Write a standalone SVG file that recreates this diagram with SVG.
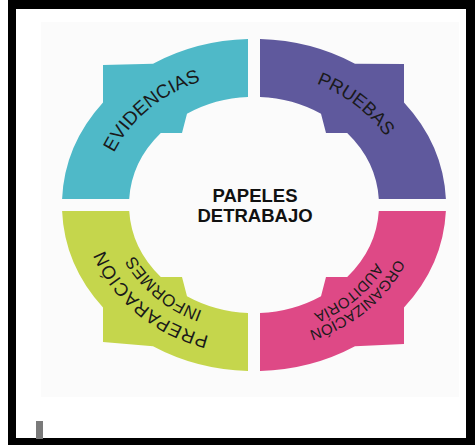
<svg xmlns="http://www.w3.org/2000/svg" width="475" height="445" viewBox="0 0 475 445">
<style>
.lbl { font-family: "Liberation Sans", Arial, sans-serif; fill: #1a1a1a; }
.ctr { font-family: "Liberation Sans", Arial, sans-serif; font-weight: bold; font-size: 18.5px; fill: #111111; text-anchor: middle; }
.cyan { fill: #4fb9c8; }
.purple { fill: #5f599d; }
.green { fill: #c5d64c; }
.pink { fill: #de4986; }
</style>
<defs>
<path id="tp-evi" d="M 101.4,205 A 152.6 132 0 0 1 254,73"/>
<path id="tp-pru" d="M 254,72.2 A 153.6 132.8 0 0 1 407.6,205"/>
<path id="tp-prep" d="M 254,341.8 A 158.2 136.8 0 0 1 95.8,205"/>
<path id="tp-inf" d="M 254,320 A 133 115 0 0 1 121,205"/>
<path id="tp-org" d="M 409.5,205 A 155.5 134.5 0 0 1 254,339.5"/>
<path id="tp-aud" d="M 392.8,205 A 138.8 120 0 0 1 254,325"/>
</defs>
<rect x="8" y="0" width="467" height="445" fill="#000000"/>
<rect x="16" y="9" width="450" height="429" fill="#ffffff"/>
<rect x="41" y="22" width="418" height="375" fill="#fbfbfb"/>
<rect x="36" y="421" width="7" height="18" fill="#7a7a7a"/>
<g id="connectors"></g>
<g id="evidencias">
<path class="cyan" d="M 62.1,199 A 192 166 0 0 1 103,102.5 L 103,65 L 153,63.8 A 192 166 0 0 1 248,39.1 L 248,97.1 A 125 108 0 0 0 187,113.8 L 182,133 L 160.8,133 A 125 108 0 0 0 129.2,199 Z"/>
<text class="lbl" font-size="19"><textPath href="#tp-evi" startOffset="50%" text-anchor="middle">EVIDENCIAS</textPath></text>
</g>
<g id="pruebas">
<path class="purple" d="M 260,39.1 A 192 166 0 0 1 355,63.8 L 404,64 L 404,102.5 A 192 166 0 0 1 445.9,199 L 378.8,199 A 125 108 0 0 0 347.2,133 L 326,133 L 321,113.8 A 125 108 0 0 0 260,97.1 Z"/>
<text class="lbl" font-size="18.5"><textPath href="#tp-pru" startOffset="48%" text-anchor="middle">PRUEBAS</textPath></text>
</g>
<g id="preparacion">
<path class="green" d="M 62.1,211 L 129.2,211 A 125 108 0 0 0 160.8,277 L 182,277 L 187,296.2 A 125 108 0 0 0 248,312.9 L 248,370.9 A 192 166 0 0 1 153,346.2 L 103,342 L 103,307.5 A 192 166 0 0 1 62.1,211 Z"/>
<text class="lbl" font-size="18.5" letter-spacing="0.7"><textPath href="#tp-prep" startOffset="50%" text-anchor="middle">PREPARACIÓN</textPath></text>
<text class="lbl" font-size="17"><textPath href="#tp-inf" startOffset="50%" text-anchor="middle">INFORMES</textPath></text>
</g>
<g id="organizacion">
<path class="pink" d="M 445.9,211 A 192 166 0 0 1 404,307.5 L 404,344 L 355,346.2 A 192 166 0 0 1 260,370.9 L 260,312.9 A 125 108 0 0 0 321,296.2 L 326,277 L 347.2,277 A 125 108 0 0 0 378.8,211 Z"/>
<text class="lbl" font-size="15"><textPath href="#tp-org" startOffset="50%" text-anchor="middle">ORGANIZACIÓN</textPath></text>
<text class="lbl" font-size="15"><textPath href="#tp-aud" startOffset="50%" text-anchor="middle">AUDITORÍA</textPath></text>
</g>
<g id="centro">
<text class="ctr" x="255" y="202">PAPELES</text>
<text class="ctr" x="255" y="222">DETRABAJO</text>
</g>
</svg>
